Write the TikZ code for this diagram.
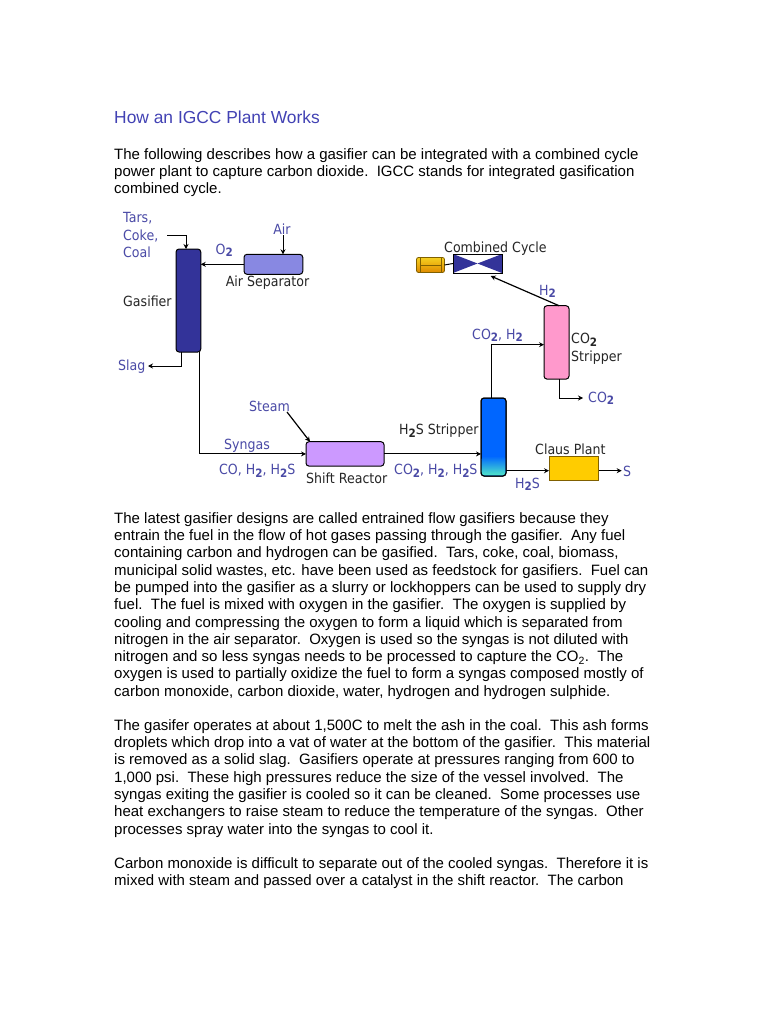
\documentclass[tikz,border=0pt]{standalone}
\usepackage{fontspec}
\setmainfont{Liberation Sans}
\newfontfamily\diagfont[FakeStretch=0.9]{DejaVu Sans}
\usetikzlibrary{arrows.meta,positioning}
\definecolor{labelblue}{HTML}{4A4AA6}
\definecolor{headblue}{HTML}{4242B4}
\definecolor{gasblue}{HTML}{333399}
\definecolor{sepblue}{HTML}{8888E2}
\definecolor{shiftpurple}{HTML}{CC99FF}
\definecolor{hssblue}{HTML}{0066FF}
\definecolor{hssteal}{HTML}{50E6C8}
\definecolor{cospink}{HTML}{FF99CC}
\definecolor{clausyellow}{HTML}{FFCC00}
\definecolor{genedge}{HTML}{806000}
\definecolor{gentop}{HTML}{F5D020}
\definecolor{genbot}{HTML}{E08A00}
\newcommand{\sbb}[1]{\raisebox{-2.5pt}{\fontsize{11.5}{11.5}\selectfont\bfseries #1}}
\tikzset{
  body/.style={anchor=north west,inner sep=0pt,align=left,font=\fontsize{15}{17.3}\selectfont},
  lab/.style={inner sep=0pt,font=\diagfont\fontsize{14}{17.5}\selectfont,text=labelblue,align=left},
  blk/.style={lab,text=black!85},
  vessel/.style={draw=black,line width=1pt,rounded corners=3pt,inner sep=0pt,outer sep=0pt},
  pipe/.style={draw=black,line width=1pt},
  flow/.style={pipe,-{Stealth[length=5pt,width=5pt]}},
}
\begin{document}
\begin{tikzpicture}[x=1pt,y=-1pt]
\useasboundingbox[fill=white] (0,0) rectangle (768,1024);

% page text
\node[body,text=headblue,font=\fontsize{17.4}{20}\selectfont] (title) at (114,110.5) {How an IGCC Plant Works};
\node[body] (intro) at (114,148.2) {The following describes how a gasifier can be integrated with a combined cycle\\
power plant to capture carbon dioxide.\ \ IGCC stands for integrated gasification\\
combined cycle.};
\node[body] (p1) at (114,512.2) {The latest gasifier designs are called entrained flow gasifiers because they\\
entrain the fuel in the flow of hot gases passing through the gasifier.\ \ Any fuel\\
containing carbon and hydrogen can be gasified.\ \ Tars, coke, coal, biomass,\\
municipal solid wastes, etc. have been used as feedstock for gasifiers.\ \ Fuel can\\
be pumped into the gasifier as a slurry or lockhoppers can be used to supply dry\\
fuel.\ \ The fuel is mixed with oxygen in the gasifier.\ \ The oxygen is supplied by\\
cooling and compressing the oxygen to form a liquid which is separated from\\
nitrogen in the air separator.\ \ Oxygen is used so the syngas is not diluted with\\
nitrogen and so less syngas needs to be processed to capture the CO\textsubscript{2}.\ \ The\\
oxygen is used to partially oxidize the fuel to form a syngas composed mostly of\\
carbon monoxide, carbon dioxide, water, hydrogen and hydrogen sulphide.};
\node[body] (p2) at (114,719.2) {The gasifer operates at about 1,500C to melt the ash in the coal.\ \ This ash forms\\
droplets which drop into a vat of water at the bottom of the gasifier.\ \ This material\\
is removed as a solid slag.\ \ Gasifiers operate at pressures ranging from 600 to\\
1,000 psi.\ \ These high pressures reduce the size of the vessel involved.\ \ The\\
syngas exiting the gasifier is cooled so it can be cleaned.\ \ Some processes use\\
heat exchangers to raise steam to reduce the temperature of the syngas.\ \ Other\\
processes spray water into the syngas to cool it.};
\node[body] (p3) at (114,857.2) {Carbon monoxide is difficult to separate out of the cooled syngas.\ \ Therefore it is\\
mixed with steam and passed over a catalyst in the shift reactor.\ \ The carbon};

% equipment
\node[vessel,fill=gasblue,minimum width=24.7pt,minimum height=103pt] (gas) at (188.4,300.5) {};
\node[vessel,fill=sepblue,minimum width=58.7pt,minimum height=20pt] (sep) at (273.4,264.3) {};
\node[vessel,fill=shiftpurple,minimum width=78pt,minimum height=24.4pt] (shift) at (345,453.9) {};
\node[vessel,minimum width=25pt,minimum height=78pt,top color=hssblue,bottom color=hssblue,middle color=hssblue] (hss) at (493.5,437) {};
\shade[top color=hssblue,bottom color=hssteal,rounded corners=3pt] (481.6,456) rectangle (505.4,475.4);
\draw[line width=1pt,rounded corners=3pt] (hss.north west) rectangle (hss.south east);
\node[vessel,fill=cospink,minimum width=25pt,minimum height=73.4pt] (cos) at (556.5,342.4) {};
\node[draw=genedge,line width=1pt,fill=clausyellow,inner sep=0pt,outer sep=0pt,minimum width=49.7pt,minimum height=24.7pt] (claus) at (573.9,468.4) {};

% turbine
\node[draw=black,line width=1pt,fill=white,inner sep=0pt,outer sep=0pt,minimum width=49pt,minimum height=19pt] (turb) at (477.5,263.5) {};
\fill[gasblue] (turb.north west) -- (turb.center) -- (turb.north east) -- (turb.south east) -- (turb.center) -- (turb.south west) -- cycle;
\draw[line width=1pt] (turb.north west) rectangle (turb.south east);
% generator
\node[draw=genedge,line width=0.8pt,top color=gentop,bottom color=genbot,rounded corners=2pt,inner sep=0pt,outer sep=0pt,minimum width=28pt,minimum height=15pt] (gen) at (430.5,265) {};
\draw[genedge,line width=0.8pt] (420,258) -- (420,272) (441,258) -- (441,272) (420,265) -- (441,265);
\draw[line width=1pt] (gen.east) -- (turb.west);

% connectors
\coordinate (tarsstart) at (167,235);
\coordinate (tarsend) at (186,249);
\draw[flow] (tarsstart) -| (tarsend);
\coordinate (airin) at (283,235);
\draw[flow] (airin) -- (airin|-sep.north);
\draw[flow] (sep.west) -- (sep.west-|gas.east);
\coordinate (slagtop) at (181,352);
\coordinate (slagend) at (148,366);
\draw[flow] (slagtop) |- (slagend);
\coordinate (syntop) at (199,352);
\draw[flow] (syntop) |- (shift.west);
\coordinate (steamin) at (287,412);
\coordinate (steamout) at (310,441.7);
\draw[flow,line width=1.2pt] (steamin) -- (steamout);
\draw[flow] (shift.east) -- (shift.east-|hss.west);
\coordinate (hssout) at (506,470.7);
\draw[flow] (hssout) -- (hssout-|claus.west);
\coordinate (sout) at (621.7,470.7);
\draw[flow] (sout-|claus.east) -- (sout);
\coordinate (hsstop) at (491,398);
\coordinate (cosin) at (544,344.7);
\draw[flow] (hsstop) |- (cosin);
\coordinate (cosbot) at (559,379);
\coordinate (cosout) at (583,398);
\draw[flow] (cosbot) |- (cosout);
\coordinate (costop) at (559,305.7);
\coordinate (turbin) at (490.7,276);
\draw[flow,line width=1.2pt] (costop) -- (turbin);

% labels
\node[lab,anchor=north west] (ltars) at (123,212.5) {Tars,\\Coke,\\Coal};
\node[lab,anchor=base west] (lo2) at (215.5,254) {O\sbb{2}};
\node[lab,anchor=base] (lair) at (282,234) {Air};
\node[blk,anchor=base] (lsep) at (267.5,286) {Air Separator};
\node[blk,anchor=base west] (lgas) at (123,306) {Gasifier};
\node[lab,anchor=base west] (lslag) at (118,370) {Slag};
\node[lab,anchor=base west] (lsteam) at (249,411) {Steam};
\node[lab,anchor=base west] (lsyn) at (224,449) {Syngas};
\node[lab,anchor=base west] (lco) at (219,474.5) {CO, H\sbb{2}, H\sbb{2}S};
\node[blk,anchor=base west] (lshift) at (306,483) {Shift Reactor};
\node[lab,anchor=base west] (lco2) at (394,474.5) {CO\sbb{2}, H\sbb{2}, H\sbb{2}S};
\node[blk,anchor=base west] (lhss) at (399,434.5) {H\sbb{2}S Stripper};
\node[blk,anchor=base west] (lclaus) at (535,454) {Claus Plant};
\node[lab,anchor=base west] (ls) at (623,476) {S};
\node[lab,anchor=base west] (lhs) at (515,488) {H\sbb{2}S};
\node[lab,anchor=base west] (lch) at (472,339) {CO\sbb{2}, H\sbb{2}};
\node[blk,anchor=base west] (lcc) at (444,252) {Combined Cycle};
\node[lab,anchor=base west] (lh2) at (539,295) {H\sbb{2}};
\node[blk,anchor=north west] (lcs) at (571,333) {CO\sbb{2}\\Stripper};
\node[lab,anchor=base west] (lco2o) at (588,402) {CO\sbb{2}};
\end{tikzpicture}
\end{document}
